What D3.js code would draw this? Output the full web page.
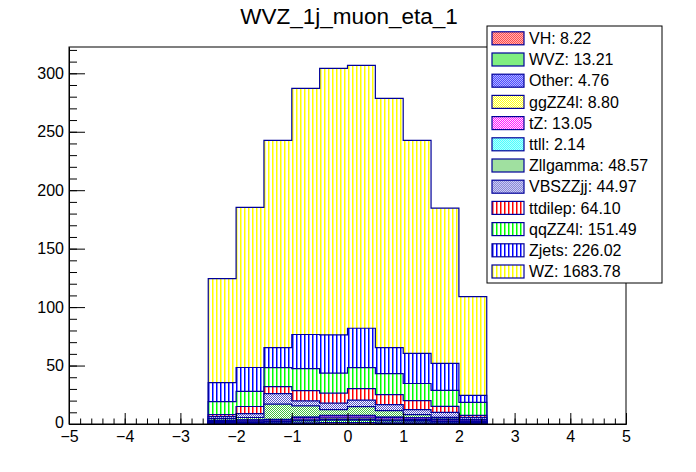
<!DOCTYPE html>
<html>
<head>
<meta charset="utf-8">
<script src="https://cdn.jsdelivr.net/npm/d3@7"></script>
<style>
  body { margin: 0; background: #fff; }
  text { font-family: "Liberation Sans", Arial, Helvetica, sans-serif; }
</style>
</head>
<body>
<svg id="chart" width="696" height="472"></svg>
<script>
// bins of muon eta, lower edges (width 0.5)
const binLow = [-2.5, -2, -1.5, -1, -0.5, 0, 0.5, 1, 1.5, 2];
const binHigh = 2.5;

// per-sample yields, stacked bottom -> top
const VH       = [0.4, 0.5, 0.6, 1.0, 1.3, 1.3, 1.0, 1.0, 0.6, 0.5];
const WVZ      = [0.8, 0.9, 1.0, 1.6, 2.0, 2.0, 1.6, 1.5, 1.0, 0.8];
const Other    = [0.3, 0.3, 0.4, 0.6, 0.7, 0.7, 0.6, 0.5, 0.4, 0.3];
const ggZZ4l   = [0.6, 0.7, 0.7, 1.0, 1.2, 1.2, 1.0, 0.9, 0.8, 0.7];
const tZ       = [0.9, 1.0, 1.1, 1.5, 1.8, 1.8, 1.5, 1.4, 1.1, 0.9];
const ttll     = [0.1, 0.15, 0.2, 0.25, 0.3, 0.3, 0.3, 0.25, 0.2, 0.1];
const Zllgamma = [1.5, 2.0, 13.0, 9.5, 5.0, 7.5, 5.5, 2.5, 1.5, 0.6];
const VBSZZjj  = [1.7, 3.4, 9.0, 4.3, 5.5, 5.7, 5.1, 4.3, 4.3, 1.7];
const ttdilep  = [1.7, 6.0, 6.0, 8.8, 8.6, 9.8, 8.6, 7.7, 5.2, 1.7];
const qqZZ4l   = [11.1, 12.9, 16.3, 18.9, 17.1, 18.0, 17.9, 14.6, 13.7, 11.2];
const Zjets    = [16.3, 20.5, 17.1, 29.1, 32.8, 33.6, 22.3, 25.7, 23.1, 6.0];
const WZ       = [89.0, 137.0, 177.2, 210.5, 227.9, 224.9, 213.1, 182.2, 132.7, 84.4];

const sampleNames = ["VH", "WVZ", "Other", "ggZZ4l", "tZ", "ttll", "Zllgamma",
                     "VBSZZjj", "ttdilep", "qqZZ4l", "Zjets", "WZ"];
const sampleValues = [VH, WVZ, Other, ggZZ4l, tZ, ttll, Zllgamma,
                      VBSZZjj, ttdilep, qqZZ4l, Zjets, WZ];
const legendTotals = ["8.22", "13.21", "4.76", "8.80", "13.05", "2.14", "48.57",
                      "44.97", "64.10", "151.49", "226.02", "1683.78"];

const xTicks = [-5, -4, -3, -2, -1, 0, 1, 2, 3, 4, 5];
const yTicks = [0, 50, 100, 150, 200, 250, 300];

// fill styles (ROOT-ish: checker dither or vertical hatch)
const style = {
  VH:       {kind: "checker", color: "#ff0000"},
  WVZ:      {kind: "checker", color: "#00dd00"},
  Other:    {kind: "checker", color: "#0000ff"},
  ggZZ4l:   {kind: "checker", color: "#ffff00"},
  tZ:       {kind: "checker", color: "#ff00ff"},
  ttll:     {kind: "checker", color: "#00ffff"},
  Zllgamma: {kind: "checker", color: "#40c040"},
  VBSZZjj:  {kind: "checker", color: "#5555cc"},
  ttdilep:  {kind: "hatch",   color: "#ff0000"},
  qqZZ4l:   {kind: "hatch",   color: "#00ff00"},
  Zjets:    {kind: "hatch",   color: "#0000ff"},
  WZ:       {kind: "hatch",   color: "#ffff00"}
};
const LINE = "#000099";

const svg = d3.select("#chart");
svg.append("rect").attr("width", 696).attr("height", 472).attr("fill", "#fff");

const x = d3.scaleLinear().domain([-5, 5]).range([69, 626]);
const y = d3.scaleLinear().domain([0, 322.5]).range([424, 47]);

// patterns
const defs = svg.append("defs");
sampleNames.forEach(name => {
  const s = style[name];
  const size = s.kind === "checker" ? 2 : 4;
  const p = defs.append("pattern")
    .attr("id", "pat-" + name)
    .attr("patternUnits", "userSpaceOnUse")
    .attr("width", size).attr("height", size);
  p.append("rect").attr("width", size).attr("height", size).attr("fill", "#fff");
  if (s.kind === "checker") {
    p.append("rect").attr("x", 0).attr("y", 0).attr("width", 1).attr("height", 1).attr("fill", s.color);
    p.append("rect").attr("x", 1).attr("y", 1).attr("width", 1).attr("height", 1).attr("fill", s.color);
  } else {
    p.append("rect").attr("x", 0).attr("y", 0).attr("width", 1.5).attr("height", 4).attr("fill", s.color);
  }
});

// stack table
const table = binLow.map((b, i) => {
  const row = {x: b};
  sampleNames.forEach((n, k) => row[n] = sampleValues[k][i]);
  return row;
});
const layers = d3.stack().keys(sampleNames)(table);

// ROOT draws the cumulative histograms from the biggest down
const area = d3.area()
  .x(p => x(p[0]))
  .y0(y(0))
  .y1(p => y(p[1]))
  .curve(d3.curveStepAfter);

const histG = svg.append("g");
layers.slice().reverse().forEach(layer => {
  const pts = layer.map(d => [d.data.x, d[1]]);
  pts.push([binHigh, layer[layer.length - 1][1]]);
  histG.append("path")
    .attr("d", area(pts))
    .attr("fill", "url(#pat-" + layer.key + ")")
    .attr("stroke", LINE)
    .attr("stroke-width", 1.2);
});

// frame
svg.append("rect")
  .attr("x", x(-5)).attr("y", y(322.5))
  .attr("width", x(5) - x(-5)).attr("height", y(0) - y(322.5))
  .attr("fill", "none").attr("stroke", "#000").attr("stroke-width", 1);

// axes
const xMinor = d3.range(0, 51).map(i => -5 + i * 0.2);
const yMinor = d3.range(0, 33).map(i => i * 10);

svg.append("g").attr("transform", `translate(0,${y(0)})`)
  .call(d3.axisBottom(x).tickValues(xMinor).tickSize(-5.5).tickSizeOuter(0).tickFormat(""));
svg.append("g").attr("class", "xaxis").attr("transform", `translate(0,${y(0)})`)
  .call(d3.axisBottom(x).tickValues(xTicks).tickSize(-11).tickSizeOuter(0).tickPadding(7));

svg.append("g").attr("transform", `translate(${x(-5)},0)`)
  .call(d3.axisLeft(y).tickValues(yMinor).tickSize(-8).tickSizeOuter(0).tickFormat(""));
svg.append("g").attr("class", "yaxis").attr("transform", `translate(${x(-5)},0)`)
  .call(d3.axisLeft(y).tickValues(yTicks).tickSize(-16).tickSizeOuter(0).tickPadding(5));

svg.selectAll(".xaxis text, .yaxis text")
  .attr("font-family", "Liberation Sans, Arial, sans-serif")
  .attr("font-size", 16)
  .attr("fill", "#000");
// lift the "0" a touch so it clears the "−5" below it
svg.selectAll(".yaxis .tick text").filter(d => d === 0).attr("dy", "0.2em");
svg.selectAll(".domain, .tick line").attr("stroke", "#000");

// title
svg.append("text")
  .attr("x", 349).attr("y", 24)
  .attr("text-anchor", "middle")
  .attr("font-size", 22.5)
  .text("WVZ_1j_muon_eta_1");

// legend
const leg = svg.append("g");
leg.append("rect")
  .attr("x", 487).attr("y", 26).attr("width", 175).attr("height", 257)
  .attr("fill", "#fff").attr("stroke", "#000").attr("stroke-width", 1);

const rows = leg.selectAll("g.entry")
  .data(sampleNames.map((n, i) => ({name: n, total: legendTotals[i], i: i})))
  .enter().append("g").classed("entry", true)
  .attr("transform", d => `translate(0,${38.3 + d.i * 21.2})`);

rows.append("rect")
  .attr("x", 492).attr("y", -6.5).attr("width", 32).attr("height", 13)
  .attr("fill", d => "url(#pat-" + d.name + ")")
  .attr("stroke", LINE).attr("stroke-width", 1.2);

rows.append("text")
  .attr("x", 529).attr("y", 0).attr("dy", "0.36em")
  .attr("font-size", 16)
  .text(d => d.name + ": " + d.total);
</script>
</body>
</html>
